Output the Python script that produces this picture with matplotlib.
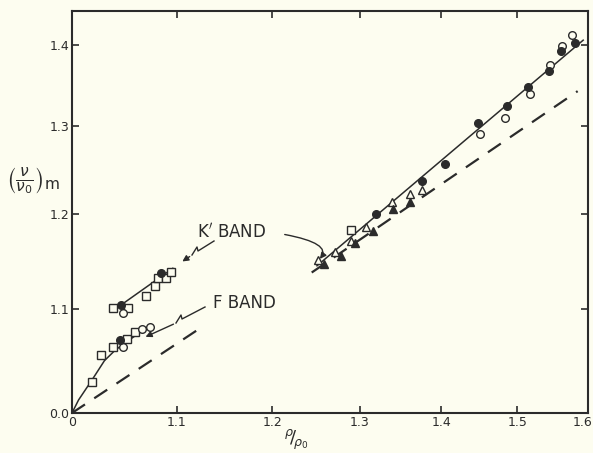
import numpy as np
import matplotlib.pyplot as plt
import matplotlib.transforms as mtrans
from matplotlib.ticker import FixedLocator, NullLocator

# F band (low left group)
f_sq_x = [1.0186, 1.0264, 1.0382, 1.0509, 1.0588]
f_sq_y = [1.0290, 1.0544, 1.0625, 1.0697, 1.0771]
f_oc_x = [1.0471, 1.0662, 1.0733]
f_oc_y = [1.0619, 1.0795, 1.0821]
f_fc_x = [1.0445]
f_fc_y = [1.0690]
f_fit_x = [1.0, 1.006, 1.0186, 1.030, 1.040, 1.052, 1.062, 1.072]
f_fit_y = [1.0, 1.012, 1.031, 1.049, 1.059, 1.068, 1.075, 1.082]

# K' band, left group
k_sq_x = [1.0382, 1.0524, 1.0694, 1.0782, 1.0814, 1.0889, 1.0946]
k_sq_y = [1.1003, 1.1003, 1.1129, 1.1226, 1.1311, 1.1311, 1.1379]
k_oc_x = [1.0471]
k_oc_y = [1.0960]
k_fc_x = [1.0461, 1.0840]
k_fc_y = [1.1036, 1.1368]
k_fit_x = [1.0367, 1.0962]
k_fit_y = [1.0970, 1.1414]

# K' band, right group
r_ot_x = [1.251, 1.271, 1.289, 1.307, 1.338, 1.361, 1.376]
r_ot_y = [1.150, 1.158, 1.170, 1.185, 1.213, 1.222, 1.226]
r_ft_x = [1.258, 1.278, 1.294, 1.315, 1.340, 1.361]
r_ft_y = [1.146, 1.154, 1.168, 1.181, 1.205, 1.213]
r_sq_x = [1.289]
r_sq_y = [1.182]
r_fc_x = [1.319, 1.376, 1.404, 1.448, 1.486, 1.515, 1.544, 1.561, 1.581]
r_fc_y = [1.199, 1.236, 1.256, 1.304, 1.324, 1.347, 1.367, 1.392, 1.402]
r_oc_x = [1.450, 1.483, 1.518, 1.546, 1.563, 1.577]
r_oc_y = [1.291, 1.309, 1.339, 1.375, 1.399, 1.413]
r_fit_x = [1.250, 1.593]
r_fit_y = [1.144, 1.406]

# dashed reference lines
d1_x = [1.0, 1.126]
d1_y = [1.0, 1.082]
d2_x = [1.244, 1.585]
d2_y = [1.137, 1.342]

xticks = [1.0, 1.1, 1.2, 1.3, 1.4, 1.5, 1.6]
xlabels = ["0", "1.1", "1.2", "1.3", "1.4", "1.5", "1.6"]
yticks = [1.0, 1.1, 1.2, 1.3, 1.4]
ylabels = ["0.0", "1.1", "1.2", "1.3", "1.4"]

bg = "#fdfdf0"
ink = "#2b2b2b"

fig = plt.figure(figsize=(5.93, 4.53), dpi=100, facecolor=bg)
ax = fig.add_axes([72 / 593, 1 - 413 / 453, 516 / 593, 402 / 453])
ax.set_facecolor(bg)
ax.set_xscale("log")
ax.set_yscale("log")

lw = 1.1
ax.plot(f_fit_x, f_fit_y, color=ink, lw=lw)
ax.plot(k_fit_x, k_fit_y, color=ink, lw=lw)
ax.plot(r_fit_x, r_fit_y, color=ink, lw=lw)
ax.plot(d1_x, d1_y, color=ink, lw=1.6, dashes=(7, 5))
ax.plot(d2_x, d2_y, color=ink, lw=1.6, dashes=(7, 5))

ms = 5.5
mk = dict(ls="", color=ink, mec=ink, mew=1.0, ms=ms)
ax.plot(f_sq_x, f_sq_y, marker="s", mfc=bg, **mk)
ax.plot(f_oc_x, f_oc_y, marker="o", mfc=bg, **mk)
ax.plot(f_fc_x, f_fc_y, marker="o", mfc=ink, **mk)
ax.plot(k_sq_x, k_sq_y, marker="s", mfc=bg, **mk)
ax.plot(k_oc_x, k_oc_y, marker="o", mfc=bg, **mk)
ax.plot(k_fc_x, k_fc_y, marker="o", mfc=ink, **mk)
ax.plot(r_ot_x, r_ot_y, marker="^", mfc=bg, **mk)
ax.plot(r_ft_x, r_ft_y, marker="^", mfc=ink, **mk)
ax.plot(r_sq_x, r_sq_y, marker="s", mfc=bg, **mk)
ax.plot(r_oc_x, r_oc_y, marker="o", mfc=bg, **mk)
ax.plot(r_fc_x, r_fc_y, marker="o", mfc=ink, **mk)

ax.set_xlim(1.0, 1.6)
ax.set_ylim(1.0, 1.444)
ax.xaxis.set_major_locator(FixedLocator(xticks))
ax.yaxis.set_major_locator(FixedLocator(yticks))
ax.xaxis.set_minor_locator(NullLocator())
ax.yaxis.set_minor_locator(NullLocator())
ax.set_xticklabels(xlabels)
ax.set_yticklabels(ylabels)
ax.tick_params(direction="in", length=5, width=1.2, color=ink, labelcolor=ink,
               labelsize=9, top=True, right=True, pad=2)
for s in ax.spines.values():
    s.set_color(ink)
    s.set_linewidth(1.5)

# pull the last x label inside the figure
last = ax.get_xticklabels()[-1]
last.set_transform(last.get_transform() +
                   mtrans.ScaledTranslation(-5 / 100, 0, fig.dpi_scale_trans))

# annotations (axes fraction coords)
def to_ax(px, py):
    return ((px - 72) / 516, (413 - py) / 402)

ax.text(*to_ax(231, 232), "K$'$ BAND", transform=ax.transAxes, fontsize=12,
        color=ink, ha="center", va="center")
ax.text(*to_ax(244, 303), "F BAND", transform=ax.transAxes, fontsize=12,
        color=ink, ha="center", va="center")

zig1 = [to_ax(*p) for p in [(214, 241), (198, 251), (197, 247), (192, 255)]]
ax.plot(*zip(*zig1), transform=ax.transAxes, color=ink, lw=1)
ax.annotate("", xy=to_ax(180, 263), xytext=zig1[-1], xycoords="axes fraction",
            textcoords="axes fraction",
            arrowprops=dict(arrowstyle="-|>", color=ink, lw=1, mutation_scale=9))

zig2 = [to_ax(*p) for p in [(205, 307), (182, 319), (181, 315), (176, 323)]]
ax.plot(*zip(*zig2), transform=ax.transAxes, color=ink, lw=1)
ax.annotate("", xy=to_ax(143, 338), xytext=zig2[-1], xycoords="axes fraction",
            textcoords="axes fraction",
            arrowprops=dict(arrowstyle="-|>", color=ink, lw=1, mutation_scale=9))

ax.annotate("", xy=to_ax(318, 261), xytext=to_ax(282, 234), xycoords="axes fraction",
            textcoords="axes fraction",
            arrowprops=dict(arrowstyle="-|>", color=ink, lw=1, mutation_scale=9,
                            connectionstyle="angle3,angleA=-10,angleB=45"))

fig.text(33 / 593, 1 - 180 / 453, r"$\left(\frac{\nu}{\nu_0}\right)_{\mathrm{m}}$",
         fontsize=16, color=ink, ha="center", va="center")
fig.text(296 / 593, 1 - 440 / 453, r"${}^{\rho}\!/\!{}_{\rho_0}$", fontsize=13,
         color=ink, ha="center", va="center")

fig.savefig("out.png", dpi=100, facecolor=bg)
